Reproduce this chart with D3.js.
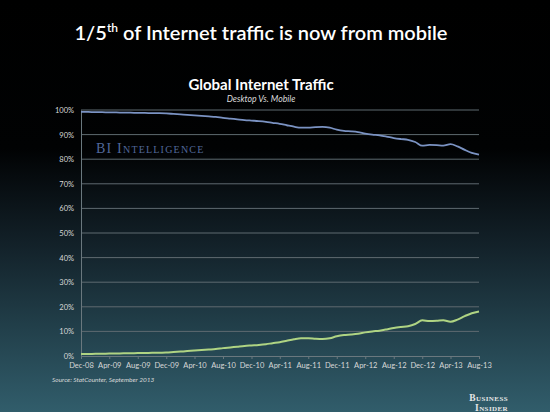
<!DOCTYPE html>
<html>
<head>
<meta charset="utf-8">
<script src="https://cdn.jsdelivr.net/npm/d3@7"></script>
<style>
  body { margin: 0; background: #000; }
  svg { display: block; }
</style>
</head>
<body>
<div id="chart"></div>
<script>
// months Dec-08 .. Aug-13
let months = [];
for (let m = 0; m < 57; m++) months.push(new Date(2008, 11 + m, 1));

let tickLabels = ["Dec-08","Apr-09","Aug-09","Dec-09","Apr-10","Aug-10","Dec-10","Apr-11",
                  "Aug-11","Dec-11","Apr-12","Aug-12","Dec-12","Apr-13","Aug-13"];
let yTicks = [0,10,20,30,40,50,60,70,80,90,100];

let mobile = [0.8,0.8,0.9,0.9,1.0,1.0,1.1,1.1,1.2,1.2,1.3,1.3,1.4,1.6,1.8,2.0,2.2,2.4,2.6,2.8,
              3.2,3.5,3.8,4.1,4.3,4.5,4.8,5.2,5.6,6.2,6.8,7.2,7.2,7.0,6.9,7.2,8.0,8.5,8.7,9.0,
              9.6,10.0,10.3,10.8,11.4,11.8,12.1,13.0,14.5,14.2,14.3,14.5,13.9,14.8,16.2,17.4,18.1];
let desktop = [99.2,99.2,99.1,99.1,99.0,99.0,98.9,98.9,98.8,98.8,98.7,98.7,98.6,98.4,98.2,98.0,97.8,97.6,97.4,97.2,
               96.8,96.5,96.2,95.9,95.7,95.5,95.2,94.8,94.4,93.8,93.2,92.8,92.8,93.0,93.1,92.8,92.0,91.5,91.3,91.0,
               90.4,90.0,89.7,89.2,88.6,88.2,87.9,87.0,85.5,85.8,85.7,85.5,86.1,85.2,83.8,82.6,81.9];

let width = 550, height = 412;
let padL = 81, padR = 479, padT = 110, padB = 356;

let svg = d3.select("#chart").append("svg")
  .attr("width", width)
  .attr("height", height);

let defs = svg.append("defs");
let grad = defs.append("linearGradient")
  .attr("id","bg").attr("x1",0).attr("y1",0).attr("x2",0).attr("y2",1);
grad.append("stop").attr("offset","0%").attr("stop-color","#000000");
grad.append("stop").attr("offset","36%").attr("stop-color","#010203");
grad.append("stop").attr("offset","60%").attr("stop-color","#13222a");
grad.append("stop").attr("offset","80%").attr("stop-color","#22404b");
grad.append("stop").attr("offset","100%").attr("stop-color","#315d6b");

svg.append("rect").attr("width",width).attr("height",height).attr("fill","url(#bg)");

// titles
let title = svg.append("text")
  .attr("x", 261).attr("y", 40)
  .attr("text-anchor","middle")
  .attr("fill","#fff")
  .style("font-family","Lato, 'Open Sans', sans-serif")
  .style("font-size","20px")
  .style("font-weight","600");
title.append("tspan").text("1/5");
title.append("tspan").attr("dy",-8).style("font-size","12px").text("th");
title.append("tspan").attr("dy",8).text(" of Internet traffic is now from mobile");

svg.append("text")
  .attr("x", 261).attr("y", 90)
  .attr("text-anchor","middle")
  .attr("fill","#fff")
  .style("font-family","Lato, 'Open Sans', sans-serif")
  .style("font-size","15px")
  .style("font-weight","bold")
  .text("Global Internet Traffic");

svg.append("text")
  .attr("x", 261).attr("y", 102)
  .attr("text-anchor","middle")
  .attr("fill","#dcdcdc")
  .style("font-family","Lato, 'Open Sans', sans-serif")
  .style("font-size","8.7px")
  .style("font-style","italic")
  .text("Desktop Vs. Mobile");

// scales
let xScale = d3.scaleTime()
  .domain([months[0], months[months.length-1]])
  .range([padL, padR]);
let yScale = d3.scaleLinear()
  .domain([0,100])
  .range([padB, padT]);

let tickDates = months.filter((d,i) => i % 4 == 0);

// gridlines
svg.append("g")
  .selectAll("line")
  .data(yTicks.filter(d => d > 0))
  .enter()
  .append("line")
  .attr("x1", padL).attr("x2", padR)
  .attr("y1", d => yScale(d)).attr("y2", d => yScale(d))
  .attr("stroke", "#5e6a70")
  .attr("stroke-width", 1);

// y axis
let yAxis = d3.axisLeft(yScale)
  .tickValues(yTicks)
  .tickSize(0)
  .tickPadding(7)
  .tickFormat(d => d + "%");
let gy = svg.append("g")
  .attr("transform", `translate(${padL},0)`)
  .call(yAxis);
gy.select(".domain").attr("stroke","#6a787e");
gy.selectAll("text")
  .attr("fill","#d8d8d8")
  .style("font-family","Lato, 'Open Sans', sans-serif")
  .style("font-size","7.5px");

// x axis
let xAxis = d3.axisBottom(xScale)
  .tickValues(tickDates)
  .tickSize(3)
  .tickPadding(4)
  .tickFormat((d,i) => tickLabels[i]);
let gx = svg.append("g")
  .attr("transform", `translate(0,${padB})`)
  .call(xAxis);
gx.select(".domain").attr("stroke","#6a787e");
gx.selectAll(".tick line").attr("stroke","#6a787e");
gx.selectAll("text")
  .attr("fill","#d8d8d8")
  .style("font-family","Lato, 'Open Sans', sans-serif")
  .style("font-size","7.5px");

// watermark
svg.append("text")
  .attr("x", 96).attr("y", 153)
  .attr("fill","#51689a")
  .style("font-family","'Liberation Serif', 'DejaVu Serif', serif")
  .style("font-size","14px")
  .style("font-variant","small-caps")
  .style("letter-spacing","1.2px")
  .text("BI Intelligence");

// lines
let line = d3.line()
  .x((d,i) => xScale(months[i]))
  .y(d => yScale(d))
  .curve(d3.curveMonotoneX);

svg.append("path")
  .datum(desktop)
  .attr("d", line)
  .attr("fill","none")
  .attr("stroke","#7b93c3")
  .attr("stroke-width", 1.8);

svg.append("path")
  .datum(mobile)
  .attr("d", line)
  .attr("fill","none")
  .attr("stroke","#afd483")
  .attr("stroke-width", 2);

// footer
svg.append("text")
  .attr("x", 52).attr("y", 382)
  .attr("fill","#d8d8d8")
  .style("font-family","Lato, 'Open Sans', sans-serif")
  .style("font-size","6.5px")
  .style("font-style","italic")
  .text("Source: StatCounter, September 2013");

let logo = svg.append("text")
  .attr("text-anchor","end")
  .attr("fill","#e6e6e6")
  .style("font-family","'Liberation Serif', 'DejaVu Serif', serif")
  .style("font-size","9.5px")
  .style("font-weight","bold")
  .style("font-variant","small-caps")
  .style("letter-spacing","0.4px");
logo.append("tspan").attr("x", 508).attr("y", 401).text("Business");
logo.append("tspan").attr("x", 508).attr("y", 411).text("Insider");
</script>
</body>
</html>
